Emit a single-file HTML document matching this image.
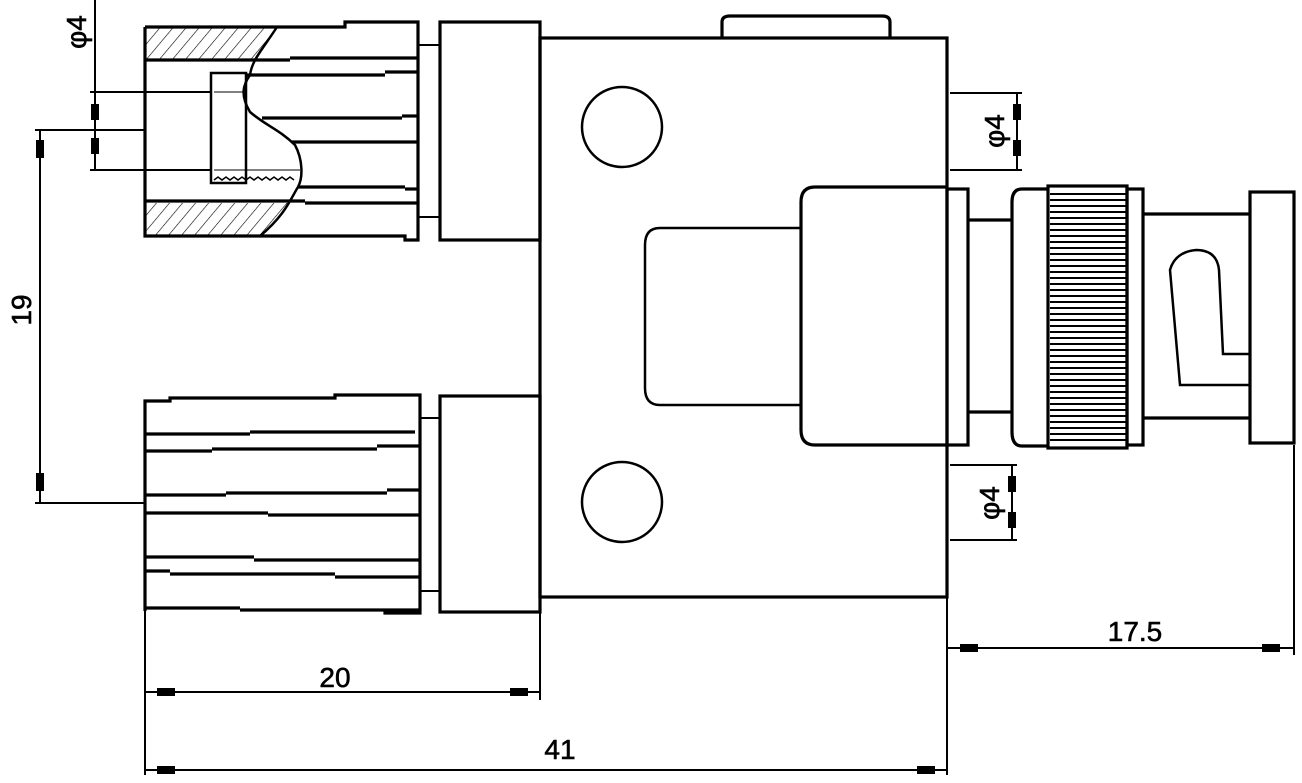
<!DOCTYPE html>
<html><head><style>html,body{margin:0;padding:0;background:#fff}svg{display:block}</style></head><body>
<svg width="1302" height="783" viewBox="0 0 1302 783" xmlns="http://www.w3.org/2000/svg" font-family="Liberation Sans, sans-serif">
<defs>
<pattern id="h" width="10" height="10" patternUnits="userSpaceOnUse" patternTransform="rotate(40)"><line x1="0" y1="0" x2="0" y2="10" stroke="#000" stroke-width="1.2"/></pattern>
</defs>
<g fill="none" stroke="#000" stroke-width="3.2">
<polygon points="145,27 277,27 262,55 255,60 145,60" fill="url(#h)" stroke="none"/>
<polygon points="145,203 290,203 270,230 258,236 145,236" fill="url(#h)" stroke="none"/>
<polyline points="145,27 345,27 345,22 418,22 418,240 405,240 405,236 145,236 145,27"/>
<line x1="145" y1="60" x2="290" y2="60"/><line x1="290" y1="58" x2="418" y2="58"/>
<line x1="245" y1="75" x2="385" y2="75"/><line x1="385" y1="72" x2="418" y2="72"/>
<line x1="262" y1="118" x2="402" y2="118"/><line x1="402" y1="116" x2="418" y2="116"/>
<line x1="292" y1="142" x2="418" y2="142"/>
<line x1="298" y1="187" x2="405" y2="187"/><line x1="405" y1="189" x2="418" y2="189"/>
<line x1="145" y1="201" x2="305" y2="201"/><line x1="305" y1="203" x2="418" y2="203"/>
<path d="M277,27 C262,50 252,60 250,75 C243,85 240,95 250,112 C265,125 280,130 295,145 C303,160 303,178 298,187 C290,200 285,215 260,236" stroke-width="2.5"/>
<rect x="211" y="73" width="35" height="110" stroke-width="2.5"/>
<line x1="214" y1="92" x2="245" y2="92" stroke-width="1"/>
<line x1="214" y1="170" x2="300" y2="170" stroke-width="1"/>
<path d="M214,180 l4,-3 l4,3 l4,-3 l4,3 l4,-3 l4,3 l4,-3 l4,3 l4,-3 l4,3 l4,-3 l4,3 l4,-3 l4,3 l4,-3 l4,3 l4,-3 l4,3 l4,-3 l4,3" stroke-width="1.5"/>
<line x1="418" y1="45" x2="440" y2="45" stroke-width="2"/><line x1="418" y1="217" x2="440" y2="217" stroke-width="2"/>
<rect x="440" y="22" width="100" height="218"/>
<polyline points="145,611 145,401 170,401 170,398 335,398 335,395 420,395 420,613 385,613 385,611"/>
<line x1="145" y1="434" x2="250" y2="434"/><line x1="250" y1="432" x2="415" y2="432"/>
<line x1="145" y1="451" x2="212" y2="451"/><line x1="212" y1="449" x2="377" y2="449"/><line x1="377" y1="446" x2="420" y2="446"/>
<line x1="145" y1="495" x2="226" y2="495"/><line x1="226" y1="493" x2="387" y2="493"/><line x1="387" y1="490" x2="420" y2="490"/>
<line x1="145" y1="513" x2="268" y2="513"/><line x1="268" y1="515" x2="420" y2="515"/>
<line x1="145" y1="557" x2="254" y2="557"/><line x1="254" y1="560" x2="420" y2="560"/>
<line x1="145" y1="571" x2="170" y2="571"/><line x1="170" y1="574" x2="335" y2="574"/><line x1="335" y1="577" x2="420" y2="577"/>
<line x1="145" y1="608" x2="240" y2="608"/><line x1="240" y1="610" x2="420" y2="610"/>
<line x1="420" y1="418" x2="440" y2="418" stroke-width="2"/><line x1="420" y1="591" x2="440" y2="591" stroke-width="2"/>
<rect x="440" y="396" width="100" height="216"/>
<rect x="540" y="38" width="407" height="559"/>
<path d="M722,38 V22 Q722,16 730,16 H882 Q890,16 890,22 V38"/>
<circle cx="622" cy="127" r="40" stroke-width="2.5"/>
<circle cx="622" cy="502" r="40" stroke-width="2.5"/>
<path d="M800,228 H660 Q645,228 645,245 V388 Q645,405 660,405 H800" stroke-width="2.5"/>
<path d="M947,187 H815 Q801,187 801,202 V430 Q801,445 815,445 H947"/>
<rect x="947" y="189" width="21" height="256"/>
<line x1="968" y1="220" x2="1012" y2="220"/><line x1="968" y1="412" x2="1012" y2="412"/>
<path d="M1048,189 H1022 Q1012,189 1012,202 V432 Q1012,446 1022,446 H1048"/>
<rect x="1048" y="186" width="79" height="262"/>
<rect x="1127" y="189" width="16" height="256"/>
<line x1="1143" y1="214" x2="1250" y2="214"/><line x1="1143" y1="418" x2="1250" y2="418"/>
<rect x="1250" y="192" width="44" height="251"/>
<path d="M1250,354 H1223 L1219,270 Q1217,250 1196,250 Q1175,252 1170,270 L1180,385 H1250" stroke-width="2.5"/>
</g>
<g stroke="#000" stroke-width="2">
<line x1="1050" y1="194" x2="1126" y2="194"/><line x1="1050" y1="200" x2="1126" y2="200"/><line x1="1050" y1="206" x2="1126" y2="206"/><line x1="1050" y1="212" x2="1126" y2="212"/><line x1="1050" y1="218" x2="1126" y2="218"/><line x1="1050" y1="224" x2="1126" y2="224"/><line x1="1050" y1="230" x2="1126" y2="230"/><line x1="1050" y1="236" x2="1126" y2="236"/><line x1="1050" y1="242" x2="1126" y2="242"/><line x1="1050" y1="248" x2="1126" y2="248"/><line x1="1050" y1="254" x2="1126" y2="254"/><line x1="1050" y1="260" x2="1126" y2="260"/><line x1="1050" y1="266" x2="1126" y2="266"/><line x1="1050" y1="272" x2="1126" y2="272"/><line x1="1050" y1="278" x2="1126" y2="278"/><line x1="1050" y1="284" x2="1126" y2="284"/><line x1="1050" y1="290" x2="1126" y2="290"/><line x1="1050" y1="296" x2="1126" y2="296"/><line x1="1050" y1="302" x2="1126" y2="302"/><line x1="1050" y1="308" x2="1126" y2="308"/><line x1="1050" y1="314" x2="1126" y2="314"/><line x1="1050" y1="320" x2="1126" y2="320"/><line x1="1050" y1="326" x2="1126" y2="326"/><line x1="1050" y1="332" x2="1126" y2="332"/><line x1="1050" y1="338" x2="1126" y2="338"/><line x1="1050" y1="344" x2="1126" y2="344"/><line x1="1050" y1="350" x2="1126" y2="350"/><line x1="1050" y1="356" x2="1126" y2="356"/><line x1="1050" y1="362" x2="1126" y2="362"/><line x1="1050" y1="368" x2="1126" y2="368"/><line x1="1050" y1="374" x2="1126" y2="374"/><line x1="1050" y1="380" x2="1126" y2="380"/><line x1="1050" y1="386" x2="1126" y2="386"/><line x1="1050" y1="392" x2="1126" y2="392"/><line x1="1050" y1="398" x2="1126" y2="398"/><line x1="1050" y1="404" x2="1126" y2="404"/><line x1="1050" y1="410" x2="1126" y2="410"/><line x1="1050" y1="416" x2="1126" y2="416"/><line x1="1050" y1="422" x2="1126" y2="422"/><line x1="1050" y1="428" x2="1126" y2="428"/><line x1="1050" y1="434" x2="1126" y2="434"/><line x1="1050" y1="440" x2="1126" y2="440"/>
</g>
<g stroke="#000" stroke-width="2" fill="none">
<line x1="95" y1="0" x2="95" y2="170"/><line x1="90" y1="92" x2="210" y2="92"/><line x1="90" y1="170" x2="210" y2="170"/>
<line x1="40" y1="130" x2="40" y2="503"/><line x1="35" y1="130" x2="145" y2="130"/><line x1="35" y1="503" x2="145" y2="503"/>
<line x1="950" y1="93" x2="1022" y2="93"/><line x1="950" y1="170" x2="1022" y2="170"/><line x1="1017" y1="93" x2="1017" y2="170"/>
<line x1="950" y1="465" x2="1017" y2="465"/><line x1="950" y1="540" x2="1017" y2="540"/><line x1="1012" y1="465" x2="1012" y2="540"/>
<line x1="1294" y1="445" x2="1294" y2="655"/><line x1="947" y1="597" x2="947" y2="775"/><line x1="947" y1="648" x2="1294" y2="648"/>
<line x1="145" y1="611" x2="145" y2="775"/><line x1="540" y1="612" x2="540" y2="700"/><line x1="145" y1="692" x2="540" y2="692"/>
<line x1="145" y1="770" x2="947" y2="770"/>
</g>
<g fill="#000">
<rect x="91" y="104" width="8" height="16"/><rect x="91" y="138" width="8" height="16"/>
<rect x="36" y="140" width="8" height="18"/><rect x="36" y="473" width="8" height="18"/>
<rect x="1013" y="104" width="8" height="16"/><rect x="1013" y="140" width="8" height="16"/>
<rect x="1008" y="476" width="8" height="16"/><rect x="1008" y="512" width="8" height="16"/>
<rect x="960" y="644" width="18" height="8"/><rect x="1262" y="644" width="18" height="8"/>
<rect x="157" y="688" width="18" height="8"/><rect x="510" y="688" width="18" height="8"/>
<rect x="157" y="766" width="18" height="8"/><rect x="917" y="766" width="18" height="8"/>
</g>
<g font-size="28" fill="#000" stroke="#000" stroke-width="0.6">
<text x="335" y="687" text-anchor="middle">20</text>
<text x="560" y="759" text-anchor="middle">41</text>
<text x="1135" y="641" text-anchor="middle">17.5</text>
<text transform="translate(31,310) rotate(-90)" text-anchor="middle">19</text>
<text transform="translate(86,32) rotate(-90)" text-anchor="middle">φ4</text>
<text transform="translate(1004,131) rotate(-90)" text-anchor="middle">φ4</text>
<text transform="translate(999,503) rotate(-90)" text-anchor="middle">φ4</text>
</g>
</svg>
</body></html>
